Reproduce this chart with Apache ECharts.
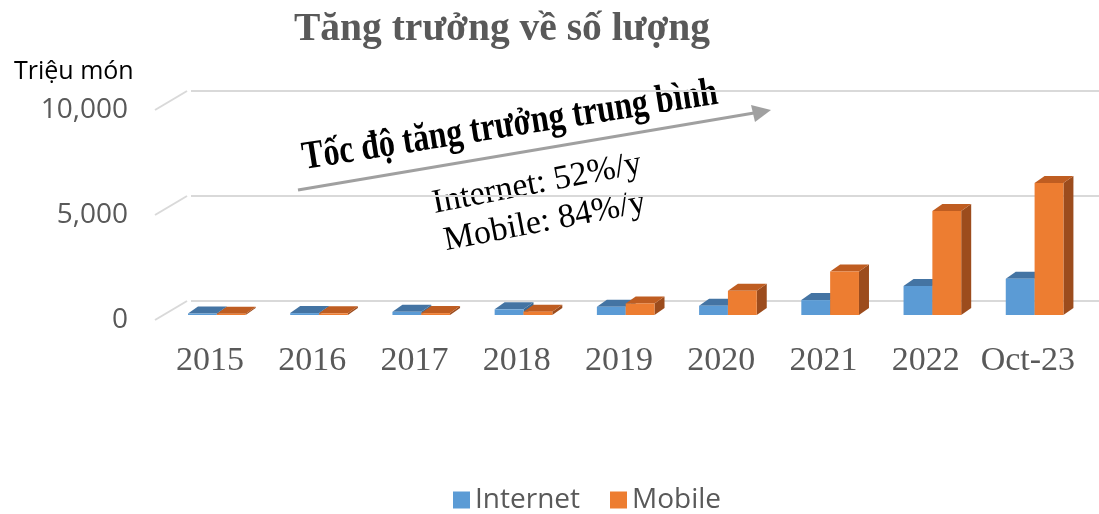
<!DOCTYPE html>
<html>
<head>
<meta charset="utf-8">
<script src="https://cdn.jsdelivr.net/npm/echarts@6/dist/echarts.min.js"></script>
<style>html,body{margin:0;padding:0;background:#fff}#c{width:1099px;height:514px}</style>
</head>
<body>
<div id="c"></div>
<script>
const categories = ['2015','2016','2017','2018','2019','2020','2021','2022','Oct-23'];
const internetValues = [70, 90, 150, 270, 390, 440, 710, 1380, 1730];
const mobileValues = [60, 80, 90, 160, 550, 1150, 2075, 4950, 6290];
const yTicks = [0, 5000, 10000];
const titleText = 'Tăng trưởng về số lượng';
const yAxisName = 'Triệu món';
const noteTitle = 'Tốc độ tăng trưởng trung bình';
const noteInternet = 'Internet: 52%/y';
const noteMobile = 'Mobile: 84%/y';

const DEPTH_X = 32, DEPTH_Y = -19;      // wall depth
const BAR_DX = 10, BAR_DY = -7;         // bar depth
const FRONT_DX = 2, FRONT_DY = -5;      // bar position inside floor

function barRender(seriesIdx, colors) {
  return function (params, api) {
    const i = api.value(0);
    const v = api.value(1);
    const band = api.size([1, 0])[0];
    const base = api.coord([i, 0]);
    const top = api.coord([i, v]);
    const w = band * 0.282;
    const cx = base[0] + FRONT_DX;
    const x0 = seriesIdx === 0 ? cx - band * 0.236 : cx - band * 0.236 + w;
    const x1 = x0 + w;
    const yb = base[1] + FRONT_DY;
    const yt = top[1] + FRONT_DY;
    return { type: 'group', children: [
      { type: 'polygon',
        shape: { points: [[x1, yb], [x1 + BAR_DX, yb + BAR_DY], [x1 + BAR_DX, yt + BAR_DY], [x1, yt]] },
        style: { fill: colors.side } },
      { type: 'polygon',
        shape: { points: [[x0, yt], [x1, yt], [x1 + BAR_DX, yt + BAR_DY], [x0 + BAR_DX, yt + BAR_DY]] },
        style: { fill: colors.top } },
      { type: 'rect', shape: { x: x0, y: yt, width: w, height: yb - yt },
        style: { fill: colors.front } }
    ] };
  };
}

const ROT = 9 * Math.PI / 180;
const chart = echarts.init(document.getElementById('c'));
chart.setOption({
  backgroundColor: '#fff',
  animation: false,
  title: {
    text: titleText, left: 289, top: 5,
    textStyle: { fontFamily: 'Liberation Serif', fontWeight: 'bold', fontSize: 39.5, color: '#595959' }
  },
  legend: {
    top: 481, left: 448, itemWidth: 17, itemHeight: 17, itemGap: 30,
    icon: 'rect',
    textStyle: { fontFamily: 'Open Sans', fontSize: 28, color: '#595959' },
    data: ['Internet', 'Mobile']
  },
  grid: [
    { left: 159, right: 20, top: 110, bottom: 194 },
    { left: 159 + DEPTH_X, right: 20 - DEPTH_X, top: 110 + DEPTH_Y, bottom: 194 - DEPTH_Y }
  ],
  xAxis: [
    {
      type: 'category', gridIndex: 0, data: categories,
      axisLine: { show: false }, axisTick: { show: false },
      axisLabel: { margin: 24, fontFamily: 'Liberation Serif', fontSize: 34, color: '#595959', interval: 0 }
    },
    { type: 'category', gridIndex: 1, data: categories, show: false }
  ],
  yAxis: [
    {
      type: 'value', gridIndex: 0, min: 0, max: 10000, interval: 5000,
      name: yAxisName, nameLocation: 'end', nameGap: 26,
      nameTextStyle: { fontFamily: 'Open Sans', fontSize: 25, color: '#000', align: 'left', padding: [0, 0, 0, -145] },
      axisLine: { show: false }, axisTick: { show: false }, splitLine: { show: false },
      axisLabel: { margin: 31, fontFamily: 'Open Sans', fontSize: 28, color: '#595959',
        formatter: v => v.toLocaleString('en-US') }
    },
    {
      type: 'value', gridIndex: 1, min: 0, max: 10000, interval: 5000,
      axisLine: { show: false }, axisTick: { show: false }, axisLabel: { show: false },
      splitLine: { show: true, lineStyle: { color: '#d9d9d9', width: 2 } }
    }
  ],
  series: [
    {
      type: 'custom', name: 'walls', xAxisIndex: 0, yAxisIndex: 0, silent: true,
      data: yTicks.map(t => [0, t]),
      renderItem: function (params, api) {
        const band = api.size([1, 0])[0];
        const p = api.coord([0, api.value(1)]);
        const x = p[0] - band / 2 - 4;
        return { type: 'line', shape: { x1: x, y1: p[1], x2: x + DEPTH_X, y2: p[1] + DEPTH_Y },
          style: { stroke: '#d9d9d9', lineWidth: 2 } };
      }
    },
    {
      type: 'custom', name: 'Internet', xAxisIndex: 0, yAxisIndex: 0,
      itemStyle: { color: '#5b9bd5' },
      data: internetValues.map((v, i) => [i, v]),
      renderItem: barRender(0, { front: '#5b9bd5', top: '#4474a3', side: '#3d6a94' })
    },
    {
      type: 'custom', name: 'Mobile', xAxisIndex: 0, yAxisIndex: 0,
      itemStyle: { color: '#ed7d31' },
      data: mobileValues.map((v, i) => [i, v]),
      renderItem: barRender(1, { front: '#ed7d31', top: '#bf5d21', side: '#9c4c1d' })
    }
  ],
  graphic: [
    {
      type: 'line', shape: { x1: 298, y1: 190, x2: 754, y2: 113 },
      style: { stroke: '#a0a0a0', lineWidth: 3 }
    },
    {
      type: 'polygon', shape: { points: [[771, 110], [751, 105], [755, 122]] },
      style: { fill: '#a0a0a0' }
    },
    {
      type: 'text', x: 510, y: 126, rotation: ROT, scaleY: 1.25,
      style: { text: noteTitle, fontFamily: 'Liberation Serif', fontWeight: 'bold', fontSize: 32,
        fill: '#000', align: 'center', verticalAlign: 'middle' }
    },
    {
      type: 'text', x: 537, y: 184, rotation: 11 * Math.PI / 180,
      style: { text: noteInternet, fontFamily: 'Liberation Serif', fontSize: 34,
        fill: '#000', align: 'center', verticalAlign: 'middle' }
    },
    {
      type: 'text', x: 545, y: 222, rotation: 11 * Math.PI / 180,
      style: { text: noteMobile, fontFamily: 'Liberation Serif', fontSize: 34,
        fill: '#000', align: 'center', verticalAlign: 'middle' }
    }
  ]
});
</script>
</body>
</html>
